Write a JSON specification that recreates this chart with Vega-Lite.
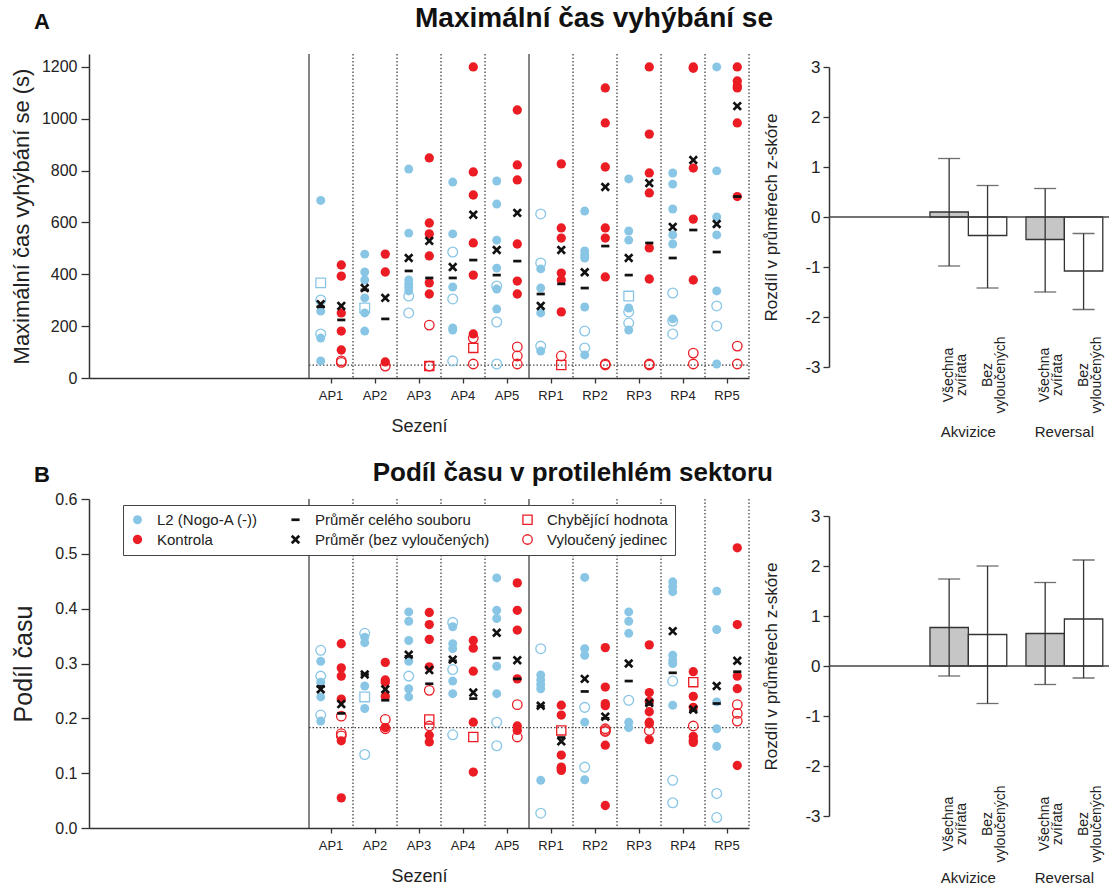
{
"$schema": "https://vega.github.io/schema/vega-lite/v6.json",
"padding": {"left": 10, "top": 5, "right": 2, "bottom": 2},
"background": "white",
"bounds": "flush",
"columns": 2,
"spacing": {"row": 121, "column": 80},
"config": {
  "font": "Liberation Sans",
  "view": {"stroke": null},
  "axis": {"grid": false, "domainColor": "#333", "tickColor": "#333", "labelColor": "#222", "titleColor": "#222", "titleFontWeight": "normal", "domainWidth": 1.5, "tickWidth": 1.3, "labelFont": "Liberation Sans", "titleFont": "Liberation Sans"},
  "title": {"font": "Liberation Sans", "color": "#111", "fontWeight": "bold"}
},
"datasets": {
  "sess": [{"s":"AP1","d":"solid"},{"s":"AP2","d":"dot"},{"s":"AP3","d":"dot"},{"s":"AP4","d":"dot"},{"s":"AP5","d":"dot"},{"s":"RP1","d":"solid"},{"s":"RP2","d":"dot"},{"s":"RP3","d":"dot"},{"s":"RP4","d":"dot"},{"s":"RP5","d":"dot"}],
  "ptsA": [
    {"s":"AP1","g":"L2","k":"L2","v":685},{"s":"AP1","g":"L2","k":"L2","v":258},{"s":"AP1","g":"L2","k":"L2","v":154},{"s":"AP1","g":"L2","k":"L2","v":66},{"s":"AP1","g":"L2","k":"CH2","v":367},{"s":"AP1","g":"L2","k":"V2","v":301},{"s":"AP1","g":"L2","k":"V2","v":170},
    {"s":"AP1","g":"K","k":"K","v":436},{"s":"AP1","g":"K","k":"K","v":393},{"s":"AP1","g":"K","k":"K","v":251},{"s":"AP1","g":"K","k":"K","v":181},{"s":"AP1","g":"K","k":"K","v":108},{"s":"AP1","g":"K","k":"V","v":66},{"s":"AP1","g":"K","k":"V","v":60},
    {"s":"AP2","g":"L2","k":"L2","v":478},{"s":"AP2","g":"L2","k":"L2","v":409},{"s":"AP2","g":"L2","k":"L2","v":378},{"s":"AP2","g":"L2","k":"L2","v":309},{"s":"AP2","g":"L2","k":"L2","v":251},{"s":"AP2","g":"L2","k":"L2","v":181},{"s":"AP2","g":"L2","k":"CH2","v":270},
    {"s":"AP2","g":"K","k":"K","v":478},{"s":"AP2","g":"K","k":"K","v":409},{"s":"AP2","g":"K","k":"K","v":62},{"s":"AP2","g":"K","k":"V","v":46},
    {"s":"AP3","g":"L2","k":"L2","v":806},{"s":"AP3","g":"L2","k":"L2","v":559},{"s":"AP3","g":"L2","k":"L2","v":378},{"s":"AP3","g":"L2","k":"L2","v":363},{"s":"AP3","g":"L2","k":"L2","v":350},{"s":"AP3","g":"L2","k":"L2","v":336},{"s":"AP3","g":"L2","k":"V2","v":316},{"s":"AP3","g":"L2","k":"V2","v":251},
    {"s":"AP3","g":"K","k":"K","v":849},{"s":"AP3","g":"K","k":"K","v":598},{"s":"AP3","g":"K","k":"K","v":556},{"s":"AP3","g":"K","k":"K","v":471},{"s":"AP3","g":"K","k":"K","v":367},{"s":"AP3","g":"K","k":"K","v":324},{"s":"AP3","g":"K","k":"V","v":204},{"s":"AP3","g":"K","k":"V","v":46},{"s":"AP3","g":"K","k":"CH","v":46},
    {"s":"AP4","g":"L2","k":"L2","v":756},{"s":"AP4","g":"L2","k":"L2","v":556},{"s":"AP4","g":"L2","k":"L2","v":351},{"s":"AP4","g":"L2","k":"L2","v":193},{"s":"AP4","g":"L2","k":"L2","v":185},{"s":"AP4","g":"L2","k":"V2","v":486},{"s":"AP4","g":"L2","k":"V2","v":305},{"s":"AP4","g":"L2","k":"V2","v":66},
    {"s":"AP4","g":"K","k":"K","v":1200},{"s":"AP4","g":"K","k":"K","v":795},{"s":"AP4","g":"K","k":"K","v":706},{"s":"AP4","g":"K","k":"K","v":521},{"s":"AP4","g":"K","k":"K","v":397},{"s":"AP4","g":"K","k":"K","v":170},{"s":"AP4","g":"K","k":"V","v":154},{"s":"AP4","g":"K","k":"V","v":54},{"s":"AP4","g":"K","k":"CH","v":116},
    {"s":"AP5","g":"L2","k":"L2","v":760},{"s":"AP5","g":"L2","k":"L2","v":671},{"s":"AP5","g":"L2","k":"L2","v":532},{"s":"AP5","g":"L2","k":"L2","v":424},{"s":"AP5","g":"L2","k":"L2","v":343},{"s":"AP5","g":"L2","k":"L2","v":266},{"s":"AP5","g":"L2","k":"V2","v":355},{"s":"AP5","g":"L2","k":"V2","v":216},{"s":"AP5","g":"L2","k":"V2","v":54},
    {"s":"AP5","g":"K","k":"K","v":1034},{"s":"AP5","g":"K","k":"K","v":822},{"s":"AP5","g":"K","k":"K","v":764},{"s":"AP5","g":"K","k":"K","v":517},{"s":"AP5","g":"K","k":"K","v":374},{"s":"AP5","g":"K","k":"K","v":324},{"s":"AP5","g":"K","k":"V","v":120},{"s":"AP5","g":"K","k":"V","v":85},{"s":"AP5","g":"K","k":"V","v":54},
    {"s":"RP1","g":"L2","k":"L2","v":421},{"s":"RP1","g":"L2","k":"L2","v":347},{"s":"RP1","g":"L2","k":"L2","v":251},{"s":"RP1","g":"L2","k":"L2","v":104},{"s":"RP1","g":"L2","k":"V2","v":633},{"s":"RP1","g":"L2","k":"V2","v":444},{"s":"RP1","g":"L2","k":"V2","v":123},
    {"s":"RP1","g":"K","k":"K","v":826},{"s":"RP1","g":"K","k":"K","v":579},{"s":"RP1","g":"K","k":"K","v":540},{"s":"RP1","g":"K","k":"K","v":405},{"s":"RP1","g":"K","k":"K","v":378},{"s":"RP1","g":"K","k":"K","v":255},{"s":"RP1","g":"K","k":"CH","v":50},{"s":"RP1","g":"K","k":"V","v":85},
    {"s":"RP2","g":"L2","k":"L2","v":644},{"s":"RP2","g":"L2","k":"L2","v":490},{"s":"RP2","g":"L2","k":"L2","v":475},{"s":"RP2","g":"L2","k":"L2","v":463},{"s":"RP2","g":"L2","k":"L2","v":274},{"s":"RP2","g":"L2","k":"L2","v":89},{"s":"RP2","g":"L2","k":"V2","v":181},{"s":"RP2","g":"L2","k":"V2","v":116},
    {"s":"RP2","g":"K","k":"K","v":1119},{"s":"RP2","g":"K","k":"K","v":984},{"s":"RP2","g":"K","k":"K","v":814},{"s":"RP2","g":"K","k":"K","v":579},{"s":"RP2","g":"K","k":"K","v":540},{"s":"RP2","g":"K","k":"K","v":390},{"s":"RP2","g":"K","k":"V","v":54},{"s":"RP2","g":"K","k":"V","v":50},
    {"s":"RP3","g":"L2","k":"L2","v":768},{"s":"RP3","g":"L2","k":"L2","v":567},{"s":"RP3","g":"L2","k":"L2","v":532},{"s":"RP3","g":"L2","k":"L2","v":270},{"s":"RP3","g":"L2","k":"L2","v":185},{"s":"RP3","g":"L2","k":"CH2","v":316},{"s":"RP3","g":"L2","k":"V2","v":255},{"s":"RP3","g":"L2","k":"V2","v":212},
    {"s":"RP3","g":"K","k":"K","v":1200},{"s":"RP3","g":"K","k":"K","v":941},{"s":"RP3","g":"K","k":"K","v":791},{"s":"RP3","g":"K","k":"K","v":714},{"s":"RP3","g":"K","k":"K","v":502},{"s":"RP3","g":"K","k":"K","v":382},{"s":"RP3","g":"K","k":"V","v":54},{"s":"RP3","g":"K","k":"V","v":50},
    {"s":"RP4","g":"L2","k":"L2","v":791},{"s":"RP4","g":"L2","k":"L2","v":748},{"s":"RP4","g":"L2","k":"L2","v":652},{"s":"RP4","g":"L2","k":"L2","v":552},{"s":"RP4","g":"L2","k":"L2","v":517},{"s":"RP4","g":"L2","k":"L2","v":228},{"s":"RP4","g":"L2","k":"V2","v":328},{"s":"RP4","g":"L2","k":"V2","v":220},{"s":"RP4","g":"L2","k":"V2","v":170},
    {"s":"RP4","g":"K","k":"K","v":1200},{"s":"RP4","g":"K","k":"K","v":1195},{"s":"RP4","g":"K","k":"K","v":810},{"s":"RP4","g":"K","k":"K","v":613},{"s":"RP4","g":"K","k":"K","v":378},{"s":"RP4","g":"K","k":"V","v":96},{"s":"RP4","g":"K","k":"V","v":54},
    {"s":"RP5","g":"L2","k":"L2","v":1200},{"s":"RP5","g":"L2","k":"L2","v":799},{"s":"RP5","g":"L2","k":"L2","v":621},{"s":"RP5","g":"L2","k":"L2","v":552},{"s":"RP5","g":"L2","k":"L2","v":336},{"s":"RP5","g":"L2","k":"L2","v":54},{"s":"RP5","g":"L2","k":"V2","v":278},{"s":"RP5","g":"L2","k":"V2","v":201},
    {"s":"RP5","g":"K","k":"K","v":1200},{"s":"RP5","g":"K","k":"K","v":1146},{"s":"RP5","g":"K","k":"K","v":1127},{"s":"RP5","g":"K","k":"K","v":1119},{"s":"RP5","g":"K","k":"K","v":984},{"s":"RP5","g":"K","k":"K","v":700},{"s":"RP5","g":"K","k":"V","v":123},{"s":"RP5","g":"K","k":"V","v":54},
    {"s":"AP1","g":"L2","k":"M","v":275},{"s":"AP1","g":"L2","k":"X","v":285},{"s":"AP1","g":"K","k":"M","v":224},{"s":"AP1","g":"K","k":"X","v":278},
    {"s":"AP2","g":"L2","k":"M","v":340},{"s":"AP2","g":"L2","k":"X","v":347},{"s":"AP2","g":"K","k":"M","v":228},{"s":"AP2","g":"K","k":"X","v":309},
    {"s":"AP3","g":"L2","k":"M","v":413},{"s":"AP3","g":"L2","k":"X","v":463},{"s":"AP3","g":"K","k":"M","v":386},{"s":"AP3","g":"K","k":"X","v":529},
    {"s":"AP4","g":"L2","k":"M","v":386},{"s":"AP4","g":"L2","k":"X","v":428},{"s":"AP4","g":"K","k":"M","v":455},{"s":"AP4","g":"K","k":"X","v":630},
    {"s":"AP5","g":"L2","k":"M","v":397},{"s":"AP5","g":"L2","k":"X","v":494},{"s":"AP5","g":"K","k":"M","v":451},{"s":"AP5","g":"K","k":"X","v":637},
    {"s":"RP1","g":"L2","k":"M","v":324},{"s":"RP1","g":"L2","k":"X","v":278},{"s":"RP1","g":"K","k":"M","v":363},{"s":"RP1","g":"K","k":"X","v":494},
    {"s":"RP2","g":"L2","k":"M","v":347},{"s":"RP2","g":"L2","k":"X","v":408},{"s":"RP2","g":"K","k":"M","v":509},{"s":"RP2","g":"K","k":"X","v":737},
    {"s":"RP3","g":"L2","k":"M","v":397},{"s":"RP3","g":"L2","k":"X","v":463},{"s":"RP3","g":"K","k":"M","v":521},{"s":"RP3","g":"K","k":"X","v":752},
    {"s":"RP4","g":"L2","k":"M","v":463},{"s":"RP4","g":"L2","k":"X","v":583},{"s":"RP4","g":"K","k":"M","v":571},{"s":"RP4","g":"K","k":"X","v":841},
    {"s":"RP5","g":"L2","k":"M","v":486},{"s":"RP5","g":"L2","k":"X","v":594},{"s":"RP5","g":"K","k":"M","v":700},{"s":"RP5","g":"K","k":"X","v":1049}
  ],
  "ptsB": [
    {"s":"AP1","g":"L2","k":"L2","v":0.304},{"s":"AP1","g":"L2","k":"L2","v":0.266},{"s":"AP1","g":"L2","k":"L2","v":0.239},{"s":"AP1","g":"L2","k":"L2","v":0.195},{"s":"AP1","g":"L2","k":"V2","v":0.324},{"s":"AP1","g":"L2","k":"V2","v":0.277},{"s":"AP1","g":"L2","k":"V2","v":0.206},
    {"s":"AP1","g":"K","k":"K","v":0.336},{"s":"AP1","g":"K","k":"K","v":0.292},{"s":"AP1","g":"K","k":"K","v":0.277},{"s":"AP1","g":"K","k":"K","v":0.235},{"s":"AP1","g":"K","k":"K","v":0.159},{"s":"AP1","g":"K","k":"K","v":0.055},{"s":"AP1","g":"K","k":"V","v":0.204},{"s":"AP1","g":"K","k":"V","v":0.172},{"s":"AP1","g":"K","k":"V","v":0.168},
    {"s":"AP2","g":"L2","k":"L2","v":0.348},{"s":"AP2","g":"L2","k":"L2","v":0.338},{"s":"AP2","g":"L2","k":"L2","v":0.259},{"s":"AP2","g":"L2","k":"L2","v":0.218},{"s":"AP2","g":"L2","k":"CH2","v":0.239},{"s":"AP2","g":"L2","k":"V2","v":0.355},{"s":"AP2","g":"L2","k":"V2","v":0.134},
    {"s":"AP2","g":"K","k":"K","v":0.302},{"s":"AP2","g":"K","k":"K","v":0.270},{"s":"AP2","g":"K","k":"K","v":0.266},{"s":"AP2","g":"K","k":"K","v":0.240},{"s":"AP2","g":"K","k":"K","v":0.183},{"s":"AP2","g":"K","k":"V","v":0.198},{"s":"AP2","g":"K","k":"V","v":0.181},
    {"s":"AP3","g":"L2","k":"L2","v":0.394},{"s":"AP3","g":"L2","k":"L2","v":0.377},{"s":"AP3","g":"L2","k":"L2","v":0.342},{"s":"AP3","g":"L2","k":"L2","v":0.304},{"s":"AP3","g":"L2","k":"L2","v":0.254},{"s":"AP3","g":"L2","k":"L2","v":0.239},{"s":"AP3","g":"L2","k":"V2","v":0.277},
    {"s":"AP3","g":"K","k":"K","v":0.393},{"s":"AP3","g":"K","k":"K","v":0.371},{"s":"AP3","g":"K","k":"K","v":0.344},{"s":"AP3","g":"K","k":"K","v":0.294},{"s":"AP3","g":"K","k":"K","v":0.169},{"s":"AP3","g":"K","k":"K","v":0.157},{"s":"AP3","g":"K","k":"V","v":0.251},{"s":"AP3","g":"K","k":"V","v":0.186},{"s":"AP3","g":"K","k":"CH","v":0.198},
    {"s":"AP4","g":"L2","k":"L2","v":0.367},{"s":"AP4","g":"L2","k":"L2","v":0.336},{"s":"AP4","g":"L2","k":"L2","v":0.327},{"s":"AP4","g":"L2","k":"L2","v":0.268},{"s":"AP4","g":"L2","k":"L2","v":0.245},{"s":"AP4","g":"L2","k":"V2","v":0.375},{"s":"AP4","g":"L2","k":"V2","v":0.289},{"s":"AP4","g":"L2","k":"V2","v":0.170},
    {"s":"AP4","g":"K","k":"K","v":0.342},{"s":"AP4","g":"K","k":"K","v":0.328},{"s":"AP4","g":"K","k":"K","v":0.286},{"s":"AP4","g":"K","k":"K","v":0.193},{"s":"AP4","g":"K","k":"K","v":0.102},{"s":"AP4","g":"K","k":"CH","v":0.166},
    {"s":"AP5","g":"L2","k":"L2","v":0.456},{"s":"AP5","g":"L2","k":"L2","v":0.397},{"s":"AP5","g":"L2","k":"L2","v":0.382},{"s":"AP5","g":"L2","k":"L2","v":0.295},{"s":"AP5","g":"L2","k":"L2","v":0.245},{"s":"AP5","g":"L2","k":"V2","v":0.193},{"s":"AP5","g":"L2","k":"V2","v":0.150},
    {"s":"AP5","g":"K","k":"K","v":0.447},{"s":"AP5","g":"K","k":"K","v":0.397},{"s":"AP5","g":"K","k":"K","v":0.361},{"s":"AP5","g":"K","k":"K","v":0.272},{"s":"AP5","g":"K","k":"K","v":0.186},{"s":"AP5","g":"K","k":"K","v":0.178},{"s":"AP5","g":"K","k":"V","v":0.225},{"s":"AP5","g":"K","k":"V","v":0.166},
    {"s":"RP1","g":"L2","k":"L2","v":0.279},{"s":"RP1","g":"L2","k":"L2","v":0.270},{"s":"RP1","g":"L2","k":"L2","v":0.262},{"s":"RP1","g":"L2","k":"L2","v":0.254},{"s":"RP1","g":"L2","k":"L2","v":0.087},{"s":"RP1","g":"L2","k":"V2","v":0.327},{"s":"RP1","g":"L2","k":"V2","v":0.027},
    {"s":"RP1","g":"K","k":"K","v":0.224},{"s":"RP1","g":"K","k":"K","v":0.206},{"s":"RP1","g":"K","k":"K","v":0.133},{"s":"RP1","g":"K","k":"K","v":0.111},{"s":"RP1","g":"K","k":"K","v":0.108},{"s":"RP1","g":"K","k":"K","v":0.105},{"s":"RP1","g":"K","k":"CH","v":0.178},
    {"s":"RP2","g":"L2","k":"L2","v":0.457},{"s":"RP2","g":"L2","k":"L2","v":0.327},{"s":"RP2","g":"L2","k":"L2","v":0.315},{"s":"RP2","g":"L2","k":"L2","v":0.193},{"s":"RP2","g":"L2","k":"L2","v":0.088},{"s":"RP2","g":"L2","k":"V2","v":0.220},{"s":"RP2","g":"L2","k":"V2","v":0.111},
    {"s":"RP2","g":"K","k":"K","v":0.329},{"s":"RP2","g":"K","k":"K","v":0.257},{"s":"RP2","g":"K","k":"K","v":0.227},{"s":"RP2","g":"K","k":"K","v":0.223},{"s":"RP2","g":"K","k":"K","v":0.151},{"s":"RP2","g":"K","k":"K","v":0.041},{"s":"RP2","g":"K","k":"V","v":0.181},{"s":"RP2","g":"K","k":"V","v":0.178},{"s":"RP2","g":"K","k":"V","v":0.176},
    {"s":"RP3","g":"L2","k":"L2","v":0.394},{"s":"RP3","g":"L2","k":"L2","v":0.377},{"s":"RP3","g":"L2","k":"L2","v":0.355},{"s":"RP3","g":"L2","k":"L2","v":0.193},{"s":"RP3","g":"L2","k":"L2","v":0.183},{"s":"RP3","g":"L2","k":"V2","v":0.233},
    {"s":"RP3","g":"K","k":"K","v":0.334},{"s":"RP3","g":"K","k":"K","v":0.247},{"s":"RP3","g":"K","k":"K","v":0.231},{"s":"RP3","g":"K","k":"K","v":0.212},{"s":"RP3","g":"K","k":"K","v":0.193},{"s":"RP3","g":"K","k":"K","v":0.190},{"s":"RP3","g":"K","k":"K","v":0.161},{"s":"RP3","g":"K","k":"V","v":0.178},
    {"s":"RP4","g":"L2","k":"L2","v":0.449},{"s":"RP4","g":"L2","k":"L2","v":0.440},{"s":"RP4","g":"L2","k":"L2","v":0.431},{"s":"RP4","g":"L2","k":"L2","v":0.315},{"s":"RP4","g":"L2","k":"L2","v":0.306},{"s":"RP4","g":"L2","k":"L2","v":0.300},{"s":"RP4","g":"L2","k":"L2","v":0.224},{"s":"RP4","g":"L2","k":"V2","v":0.268},{"s":"RP4","g":"L2","k":"V2","v":0.087},{"s":"RP4","g":"L2","k":"V2","v":0.046},
    {"s":"RP4","g":"K","k":"K","v":0.285},{"s":"RP4","g":"K","k":"K","v":0.240},{"s":"RP4","g":"K","k":"K","v":0.220},{"s":"RP4","g":"K","k":"K","v":0.167},{"s":"RP4","g":"K","k":"K","v":0.160},{"s":"RP4","g":"K","k":"K","v":0.156},{"s":"RP4","g":"K","k":"CH","v":0.266},{"s":"RP4","g":"K","k":"V","v":0.186},
    {"s":"RP5","g":"L2","k":"L2","v":0.432},{"s":"RP5","g":"L2","k":"L2","v":0.362},{"s":"RP5","g":"L2","k":"L2","v":0.230},{"s":"RP5","g":"L2","k":"L2","v":0.181},{"s":"RP5","g":"L2","k":"L2","v":0.149},{"s":"RP5","g":"L2","k":"V2","v":0.063},{"s":"RP5","g":"L2","k":"V2","v":0.019},
    {"s":"RP5","g":"K","k":"K","v":0.511},{"s":"RP5","g":"K","k":"K","v":0.371},{"s":"RP5","g":"K","k":"K","v":0.277},{"s":"RP5","g":"K","k":"K","v":0.254},{"s":"RP5","g":"K","k":"K","v":0.114},{"s":"RP5","g":"K","k":"V","v":0.225},{"s":"RP5","g":"K","k":"V","v":0.209},{"s":"RP5","g":"K","k":"V","v":0.195},
    {"s":"AP1","g":"L2","k":"M","v":0.258},{"s":"AP1","g":"L2","k":"X","v":0.253},{"s":"AP1","g":"K","k":"M","v":0.209},{"s":"AP1","g":"K","k":"X","v":0.226},
    {"s":"AP2","g":"L2","k":"M","v":0.280},{"s":"AP2","g":"L2","k":"X","v":0.280},{"s":"AP2","g":"K","k":"M","v":0.233},{"s":"AP2","g":"K","k":"X","v":0.253},
    {"s":"AP3","g":"L2","k":"M","v":0.313},{"s":"AP3","g":"L2","k":"X","v":0.316},{"s":"AP3","g":"K","k":"M","v":0.263},{"s":"AP3","g":"K","k":"X","v":0.288},
    {"s":"AP4","g":"L2","k":"M","v":0.305},{"s":"AP4","g":"L2","k":"X","v":0.307},{"s":"AP4","g":"K","k":"M","v":0.236},{"s":"AP4","g":"K","k":"X","v":0.247},
    {"s":"AP5","g":"L2","k":"M","v":0.310},{"s":"AP5","g":"L2","k":"X","v":0.356},{"s":"AP5","g":"K","k":"M","v":0.272},{"s":"AP5","g":"K","k":"X","v":0.306},
    {"s":"RP1","g":"L2","k":"M","v":0.222},{"s":"RP1","g":"L2","k":"X","v":0.223},{"s":"RP1","g":"K","k":"M","v":0.165},{"s":"RP1","g":"K","k":"X","v":0.158},
    {"s":"RP2","g":"L2","k":"M","v":0.249},{"s":"RP2","g":"L2","k":"X","v":0.272},{"s":"RP2","g":"K","k":"M","v":0.200},{"s":"RP2","g":"K","k":"X","v":0.203},
    {"s":"RP3","g":"L2","k":"M","v":0.268},{"s":"RP3","g":"L2","k":"X","v":0.300},{"s":"RP3","g":"K","k":"M","v":0.226},{"s":"RP3","g":"K","k":"X","v":0.228},
    {"s":"RP4","g":"L2","k":"M","v":0.283},{"s":"RP4","g":"L2","k":"X","v":0.359},{"s":"RP4","g":"K","k":"M","v":0.214},{"s":"RP4","g":"K","k":"X","v":0.216},
    {"s":"RP5","g":"L2","k":"M","v":0.227},{"s":"RP5","g":"L2","k":"X","v":0.259},{"s":"RP5","g":"K","k":"M","v":0.285},{"s":"RP5","g":"K","k":"X","v":0.305}
  ],
  "barsA": [
    {"phase":"Akvizice","type":"Všechna zvířata","mean":0.1,"lo":-0.98,"hi":1.17},
    {"phase":"Akvizice","type":"Bez vyloučených","mean":-0.37,"lo":-1.42,"hi":0.63},
    {"phase":"Reversal","type":"Všechna zvířata","mean":-0.45,"lo":-1.5,"hi":0.57},
    {"phase":"Reversal","type":"Bez vyloučených","mean":-1.08,"lo":-1.85,"hi":-0.33}
  ],
  "barsB": [
    {"phase":"Akvizice","type":"Všechna zvířata","mean":0.77,"lo":-0.2,"hi":1.74},
    {"phase":"Akvizice","type":"Bez vyloučených","mean":0.63,"lo":-0.75,"hi":2.0},
    {"phase":"Reversal","type":"Všechna zvířata","mean":0.65,"lo":-0.37,"hi":1.67},
    {"phase":"Reversal","type":"Bez vyloučených","mean":0.94,"lo":-0.24,"hi":2.12}
  ]
},
"concat": [
  {
    "width": 660, "height": 324,
    "title": {"text": "A", "anchor": "start", "frame": "group", "dx": -55, "fontSize": 22, "offset": 2, "baseline": "alphabetic"},
    "layer": [
      {"data": {"name": "sess"}, "mark": {"type": "rule", "color": "#444", "strokeWidth": 1.3},
       "encoding": {"x": {"field": "s", "type": "nominal", "bandPosition": 0, "scale": {"type": "band", "domain": ["_1","_2","_3","_4","_5","AP1","AP2","AP3","AP4","AP5","RP1","RP2","RP3","RP4","RP5"], "paddingInner": 0, "paddingOuter": 0}, "axis": {"values": ["AP1","AP2","AP3","AP4","AP5","RP1","RP2","RP3","RP4","RP5"], "title": "Sezení", "titleFontSize": 18, "labelFontSize": 13, "labelAngle": 0, "tickSize": 5, "labelPadding": 6, "titlePadding": 15}},
                    "strokeDash": {"field": "d", "type": "nominal", "scale": {"domain": ["solid","dot"], "range": [[1,0],[1.5,2]]}, "legend": null}}},
      {"data": {"values": [{}]}, "mark": {"type": "rule", "color": "#444", "strokeWidth": 1.3, "strokeDash": [1.5,2]},
       "encoding": {"x": {"datum": "RP5", "type": "nominal", "bandPosition": 1, "scale": {"type": "band", "domain": ["_1","_2","_3","_4","_5","AP1","AP2","AP3","AP4","AP5","RP1","RP2","RP3","RP4","RP5"], "paddingInner": 0, "paddingOuter": 0}, "axis": {"values": ["AP1","AP2","AP3","AP4","AP5","RP1","RP2","RP3","RP4","RP5"], "title": "Sezení", "titleFontSize": 18, "labelFontSize": 13, "labelAngle": 0, "tickSize": 5, "labelPadding": 6, "titlePadding": 15}}}},
      {"data": {"values": [{}]}, "mark": {"type": "rule", "color": "#444", "strokeWidth": 1.3, "strokeDash": [1.5,2]},
       "encoding": {"x": {"datum": "AP1", "type": "nominal", "bandPosition": 0, "scale": {"type": "band", "domain": ["_1","_2","_3","_4","_5","AP1","AP2","AP3","AP4","AP5","RP1","RP2","RP3","RP4","RP5"], "paddingInner": 0, "paddingOuter": 0}, "axis": {"values": ["AP1","AP2","AP3","AP4","AP5","RP1","RP2","RP3","RP4","RP5"], "title": "Sezení", "titleFontSize": 18, "labelFontSize": 13, "labelAngle": 0, "tickSize": 5, "labelPadding": 6, "titlePadding": 15}},
                    "x2": {"datum": "RP5", "bandPosition": 1},
                    "y": {"datum": 50, "type": "quantitative", "scale": {"domain": [0,1250]}, "axis": {"values": [0,200,400,600,800,1000,1200], "format": "d", "title": "Maximální čas vyhýbání se (s)", "titleFontSize": 22, "labelFontSize": 16, "tickSize": 8, "labelPadding": 4, "titlePadding": 8}}}},
      {"data": {"name": "ptsA"}, "mark": {"type": "point", "filled": true, "opacity": 1, "strokeWidth": 1.3},
       "encoding": {
         "x": {"field": "s", "type": "nominal", "scale": {"type": "band", "domain": ["_1","_2","_3","_4","_5","AP1","AP2","AP3","AP4","AP5","RP1","RP2","RP3","RP4","RP5"], "paddingInner": 0, "paddingOuter": 0}, "axis": {"values": ["AP1","AP2","AP3","AP4","AP5","RP1","RP2","RP3","RP4","RP5"], "title": "Sezení", "titleFontSize": 18, "labelFontSize": 13, "labelAngle": 0, "tickSize": 5, "labelPadding": 6, "titlePadding": 15}},
         "xOffset": {"field": "g", "type": "nominal", "scale": {"domain": ["L2","K"], "paddingInner": 0, "paddingOuter": 0.57}},
         "y": {"field": "v", "type": "quantitative", "scale": {"domain": [0,1250]}, "axis": {"values": [0,200,400,600,800,1000,1200], "format": "d", "title": "Maximální čas vyhýbání se (s)", "titleFontSize": 22, "labelFontSize": 16, "tickSize": 8, "labelPadding": 4, "titlePadding": 8}},
         "shape": {"field": "k", "type": "nominal", "scale": {"domain": ["L2","M","CH","K","X","V","CH2","V2"], "range": ["circle","M-0.9,-0.3L0.9,-0.3L0.9,0.3L-0.9,0.3Z","square","circle","M-1,-0.6L-0.6,-1L0,-0.4L0.6,-1L1,-0.6L0.4,0L1,0.6L0.6,1L0,0.4L-0.6,1L-1,0.6L-0.4,0Z","circle","square","circle"]}, "legend": null},
         "fill": {"field": "k", "type": "nominal", "scale": {"domain": ["L2","M","CH","K","X","V","CH2","V2"], "range": ["#89c6e6","#111111","transparent","#eb1c24","#111111","transparent","transparent","transparent"]}, "legend": null},
         "stroke": {"field": "k", "type": "nominal", "scale": {"domain": ["L2","M","CH","K","X","V","CH2","V2"], "range": ["transparent","transparent","#eb1c24","transparent","transparent","#eb1c24","#89c6e6","#89c6e6"]}, "legend": null},
         "size": {"field": "k", "type": "nominal", "scale": {"domain": ["L2","M","CH","K","X","V","CH2","V2"], "range": [80,95,64,80,150,70,64,70]}, "legend": null}
       }}
    ]
  },
  {
    "width": 280, "height": 324,
    "title": {"text": "Maximální čas vyhýbání se", "anchor": "end", "frame": "group", "dx": -336, "fontSize": 28, "offset": -1, "baseline": "alphabetic"},
    "data": {"name": "barsA"},
    "layer": [
      {"mark": {"type": "bar", "stroke": "#333", "strokeWidth": 1.3},
       "encoding": {
         "x": {"field": "phase", "type": "nominal", "scale": {"domain": ["Akvizice","Reversal"], "paddingInner": 0.2, "paddingOuter": 0.558, "align": 0.942}, "axis": {"title": null, "domain": false, "ticks": false, "labelAngle": 0, "labelPadding": 46, "labelFontSize": 15}},
         "xOffset": {"field": "type", "type": "nominal", "scale": {"domain": ["Všechna zvířata","Bez vyloučených"], "paddingInner": 0, "paddingOuter": 0}},
         "y": {"field": "mean", "type": "quantitative", "scale": {"domain": [-3,3], "range": [313,13]}, "axis": {"values": [-3,-2.5,-2,-1.5,-1,-0.5,0,0.5,1,1.5,2,2.5,3], "labelExpr": "'' + datum.value", "title": "Rozdíl v průměrech z-skóre", "titleFontSize": 17, "labelFontSize": 17, "tickSize": 6, "labelPadding": 3, "titlePadding": 24}},
         "fill": {"field": "type", "type": "nominal", "scale": {"domain": ["Všechna zvířata","Bez vyloučených"], "range": ["#c6c6c6","#ffffff"]}, "legend": null}
       }},
      {"data": {"values": [{}]}, "mark": {"type": "rule", "color": "#444", "strokeWidth": 1.3}, "encoding": {"y": {"datum": 0, "type": "quantitative"}}},
      {"mark": {"type": "rule", "color": "#333", "strokeWidth": 1.3},
       "encoding": {
         "x": {"field": "phase", "type": "nominal"},
         "xOffset": {"field": "type", "type": "nominal"},
         "y": {"field": "lo", "type": "quantitative"}, "y2": {"field": "hi"}}},
      {"mark": {"type": "tick", "orient": "horizontal", "color": "#333", "size": 22, "thickness": 1.3},
       "encoding": {"x": {"field": "phase", "type": "nominal"}, "xOffset": {"field": "type", "type": "nominal"}, "y": {"field": "lo", "type": "quantitative"}}},
      {"mark": {"type": "tick", "orient": "horizontal", "color": "#333", "size": 22, "thickness": 1.3},
       "encoding": {"x": {"field": "phase", "type": "nominal"}, "xOffset": {"field": "type", "type": "nominal"}, "y": {"field": "hi", "type": "quantitative"}}},
      {"mark": {"type": "text", "angle": 270, "align": "center", "baseline": "middle", "lineBreak": " ", "fontSize": 14, "lineHeight": 13, "color": "#222"},
       "encoding": {"x": {"field": "phase", "type": "nominal"}, "xOffset": {"field": "type", "type": "nominal"}, "y": {"datum": -3.16, "type": "quantitative"}, "text": {"field": "type"}}}
    ]
  },
  {
    "width": 660, "height": 329,
    "title": {"text": "B", "anchor": "start", "frame": "group", "dx": -55, "fontSize": 22, "offset": -13, "baseline": "alphabetic"},
    "layer": [
      {"data": {"name": "sess"}, "mark": {"type": "rule", "color": "#444", "strokeWidth": 1.3},
       "encoding": {"x": {"field": "s", "type": "nominal", "bandPosition": 0, "scale": {"type": "band", "domain": ["_1","_2","_3","_4","_5","AP1","AP2","AP3","AP4","AP5","RP1","RP2","RP3","RP4","RP5"], "paddingInner": 0, "paddingOuter": 0}, "axis": {"values": ["AP1","AP2","AP3","AP4","AP5","RP1","RP2","RP3","RP4","RP5"], "title": "Sezení", "titleFontSize": 18, "labelFontSize": 13, "labelAngle": 0, "tickSize": 5, "labelPadding": 6, "titlePadding": 15}},
                    "strokeDash": {"field": "d", "type": "nominal", "scale": {"domain": ["solid","dot"], "range": [[1,0],[1.5,2]]}, "legend": null}}},
      {"data": {"values": [{}]}, "mark": {"type": "rule", "color": "#444", "strokeWidth": 1.3, "strokeDash": [1.5,2]},
       "encoding": {"x": {"datum": "RP5", "type": "nominal", "bandPosition": 1, "scale": {"type": "band", "domain": ["_1","_2","_3","_4","_5","AP1","AP2","AP3","AP4","AP5","RP1","RP2","RP3","RP4","RP5"], "paddingInner": 0, "paddingOuter": 0}, "axis": {"values": ["AP1","AP2","AP3","AP4","AP5","RP1","RP2","RP3","RP4","RP5"], "title": "Sezení", "titleFontSize": 18, "labelFontSize": 13, "labelAngle": 0, "tickSize": 5, "labelPadding": 6, "titlePadding": 15}}}},
      {"data": {"values": [{}]}, "mark": {"type": "rule", "color": "#444", "strokeWidth": 1.3, "strokeDash": [1.5,2]},
       "encoding": {"x": {"datum": "AP1", "type": "nominal", "bandPosition": 0, "scale": {"type": "band", "domain": ["_1","_2","_3","_4","_5","AP1","AP2","AP3","AP4","AP5","RP1","RP2","RP3","RP4","RP5"], "paddingInner": 0, "paddingOuter": 0}, "axis": {"values": ["AP1","AP2","AP3","AP4","AP5","RP1","RP2","RP3","RP4","RP5"], "title": "Sezení", "titleFontSize": 18, "labelFontSize": 13, "labelAngle": 0, "tickSize": 5, "labelPadding": 6, "titlePadding": 15}},
                    "x2": {"datum": "RP5", "bandPosition": 1},
                    "y": {"datum": 0.183, "type": "quantitative", "scale": {"domain": [0,0.6]}, "axis": {"values": [0,0.1,0.2,0.3,0.4,0.5,0.6], "format": ".1f", "title": "Podíl času", "titleFontSize": 25, "labelFontSize": 16, "tickSize": 8, "labelPadding": 4, "titlePadding": 18}}}},
      {"data": {"name": "ptsB"}, "mark": {"type": "point", "filled": true, "opacity": 1, "strokeWidth": 1.3},
       "encoding": {
         "x": {"field": "s", "type": "nominal", "scale": {"type": "band", "domain": ["_1","_2","_3","_4","_5","AP1","AP2","AP3","AP4","AP5","RP1","RP2","RP3","RP4","RP5"], "paddingInner": 0, "paddingOuter": 0}, "axis": {"values": ["AP1","AP2","AP3","AP4","AP5","RP1","RP2","RP3","RP4","RP5"], "title": "Sezení", "titleFontSize": 18, "labelFontSize": 13, "labelAngle": 0, "tickSize": 5, "labelPadding": 6, "titlePadding": 15}},
         "xOffset": {"field": "g", "type": "nominal", "scale": {"domain": ["L2","K"], "paddingInner": 0, "paddingOuter": 0.57}},
         "y": {"field": "v", "type": "quantitative", "scale": {"domain": [0,0.6]}, "axis": {"values": [0,0.1,0.2,0.3,0.4,0.5,0.6], "format": ".1f", "title": "Podíl času", "titleFontSize": 25, "labelFontSize": 16, "tickSize": 8, "labelPadding": 4, "titlePadding": 18}},
         "shape": {"field": "k", "type": "nominal", "scale": {"domain": ["L2","M","CH","K","X","V","CH2","V2"], "range": ["circle","M-0.9,-0.3L0.9,-0.3L0.9,0.3L-0.9,0.3Z","square","circle","M-1,-0.6L-0.6,-1L0,-0.4L0.6,-1L1,-0.6L0.4,0L1,0.6L0.6,1L0,0.4L-0.6,1L-1,0.6L-0.4,0Z","circle","square","circle"]},
                   "legend": {"orient": "none", "legendX": 34, "legendY": 6, "columns": 3, "title": null, "values": ["L2","K","M","X","CH","V"],
                              "labelExpr": "datum.label == 'L2' ? 'L2 (Nogo-A (-))' : datum.label == 'K' ? 'Kontrola' : datum.label == 'M' ? 'Průměr celého souboru' : datum.label == 'X' ? 'Průměr (bez vyloučených)' : datum.label == 'CH' ? 'Chybějící hodnota' : 'Vyloučený jedinec'",
                              "labelFontSize": 15, "labelColor": "#222", "labelLimit": 400, "strokeColor": "#444", "fillColor": "white", "padding": 7, "rowPadding": 4, "columnPadding": 30, "labelOffset": 12, "symbolStrokeWidth": 1.3}},
         "fill": {"field": "k", "type": "nominal", "scale": {"domain": ["L2","M","CH","K","X","V","CH2","V2"], "range": ["#89c6e6","#111111","transparent","#eb1c24","#111111","transparent","transparent","transparent"]}},
         "stroke": {"field": "k", "type": "nominal", "scale": {"domain": ["L2","M","CH","K","X","V","CH2","V2"], "range": ["transparent","transparent","#eb1c24","transparent","transparent","#eb1c24","#89c6e6","#89c6e6"]}},
         "size": {"field": "k", "type": "nominal", "scale": {"domain": ["L2","M","CH","K","X","V","CH2","V2"], "range": [80,95,64,80,150,70,64,70]}}
       }}
    ]
  },
  {
    "width": 280, "height": 329,
    "title": {"text": "Podíl času v protilehlém sektoru", "anchor": "end", "frame": "group", "dx": -336, "fontSize": 26, "offset": -8, "baseline": "alphabetic"},
    "data": {"name": "barsB"},
    "layer": [
      {"mark": {"type": "bar", "stroke": "#333", "strokeWidth": 1.3},
       "encoding": {
         "x": {"field": "phase", "type": "nominal", "scale": {"domain": ["Akvizice","Reversal"], "paddingInner": 0.2, "paddingOuter": 0.558, "align": 0.942}, "axis": {"title": null, "domain": false, "ticks": false, "labelAngle": 0, "labelPadding": 42, "labelFontSize": 15}},
         "xOffset": {"field": "type", "type": "nominal", "scale": {"domain": ["Všechna zvířata","Bez vyloučených"], "paddingInner": 0, "paddingOuter": 0}},
         "y": {"field": "mean", "type": "quantitative", "scale": {"domain": [-3,3], "range": [317,17]}, "axis": {"values": [-3,-2.5,-2,-1.5,-1,-0.5,0,0.5,1,1.5,2,2.5,3], "labelExpr": "'' + datum.value", "title": "Rozdíl v průměrech z-skóre", "titleFontSize": 17, "labelFontSize": 17, "tickSize": 6, "labelPadding": 3, "titlePadding": 24}},
         "fill": {"field": "type", "type": "nominal", "scale": {"domain": ["Všechna zvířata","Bez vyloučených"], "range": ["#c6c6c6","#ffffff"]}, "legend": null}
       }},
      {"data": {"values": [{}]}, "mark": {"type": "rule", "color": "#444", "strokeWidth": 1.3}, "encoding": {"y": {"datum": 0, "type": "quantitative"}}},
      {"mark": {"type": "rule", "color": "#333", "strokeWidth": 1.3},
       "encoding": {
         "x": {"field": "phase", "type": "nominal"},
         "xOffset": {"field": "type", "type": "nominal"},
         "y": {"field": "lo", "type": "quantitative"}, "y2": {"field": "hi"}}},
      {"mark": {"type": "tick", "orient": "horizontal", "color": "#333", "size": 22, "thickness": 1.3},
       "encoding": {"x": {"field": "phase", "type": "nominal"}, "xOffset": {"field": "type", "type": "nominal"}, "y": {"field": "lo", "type": "quantitative"}}},
      {"mark": {"type": "tick", "orient": "horizontal", "color": "#333", "size": 22, "thickness": 1.3},
       "encoding": {"x": {"field": "phase", "type": "nominal"}, "xOffset": {"field": "type", "type": "nominal"}, "y": {"field": "hi", "type": "quantitative"}}},
      {"mark": {"type": "text", "angle": 270, "align": "center", "baseline": "middle", "lineBreak": " ", "fontSize": 14, "lineHeight": 13, "color": "#222"},
       "encoding": {"x": {"field": "phase", "type": "nominal"}, "xOffset": {"field": "type", "type": "nominal"}, "y": {"datum": -3.16, "type": "quantitative"}, "text": {"field": "type"}}}
    ]
  }
],
"resolve": {
  "scale": {"x": "independent", "y": "independent", "xOffset": "independent", "fill": "independent", "stroke": "independent", "shape": "independent", "size": "independent", "strokeDash": "independent"},
  "legend": {"fill": "independent", "stroke": "independent", "shape": "independent", "size": "independent", "strokeDash": "independent"}
}
}
